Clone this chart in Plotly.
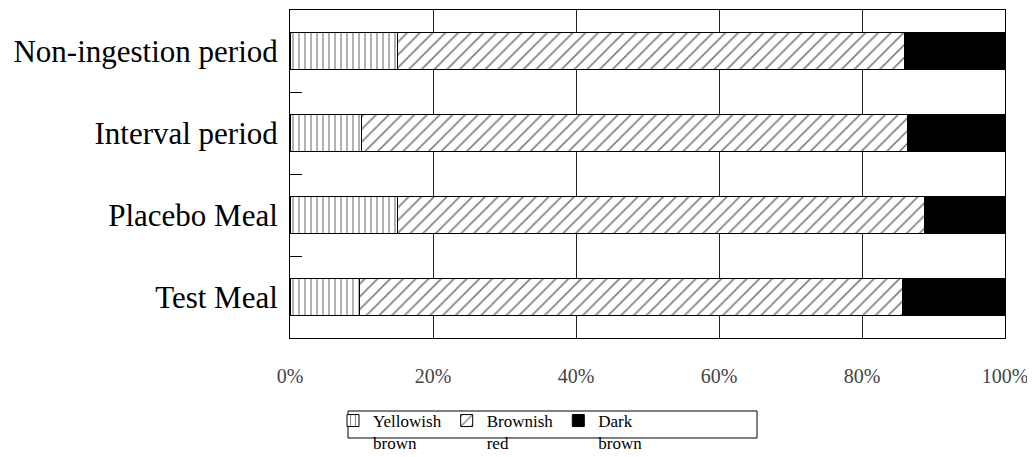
import plotly.graph_objects as go

categories = ["Non-ingestion period", "Interval period", "Placebo Meal", "Test Meal"]
yellowish_brown = [15.0, 10.0, 15.0, 9.7]
brownish_red = [71.0, 76.3, 73.7, 76.0]
dark_brown = [14.0, 13.7, 11.3, 14.3]
tick_vals = [0, 20, 40, 60, 80, 100]
tick_text = ["0%", "20%", "40%", "60%", "80%", "100%"]

# page is offset by the default 8px body margin
W, H = 1027, 449
L, R, T, B = 282, 30, 2, 119
PW, PH = W - L - R, H - T - B

def px_to_paper_x(px):
    return (px - L) / PW

def px_to_paper_y(py):
    return (H - B - py) / PH

fig = go.Figure()
fig.add_trace(go.Bar(
    y=categories, x=yellowish_brown, orientation="h", name="Yellowish<br>brown",
    marker=dict(color="white", line=dict(color="black", width=1),
                pattern=dict(shape="|", fgcolor="black", bgcolor="white", size=6, solidity=0.2)),
    width=0.45,
))
fig.add_trace(go.Bar(
    y=categories, x=brownish_red, orientation="h", name="Brownish<br>red",
    marker=dict(color="white", line=dict(color="black", width=1),
                pattern=dict(shape="/", fgcolor="black", bgcolor="white", size=9, solidity=0.18)),
    width=0.45,
))
fig.add_trace(go.Bar(
    y=categories, x=dark_brown, orientation="h", name="Dark<br>brown",
    marker=dict(color="black", line=dict(color="black", width=1)),
    width=0.45,
))

# legend frame (the wrapped second line spills below it, as in the original)
fig.add_shape(type="rect", xref="paper", yref="paper",
              x0=px_to_paper_x(340), x1=px_to_paper_x(749),
              y0=px_to_paper_y(430), y1=px_to_paper_y(403),
              line=dict(color="black", width=1), fillcolor="rgba(0,0,0,0)", layer="above")

fig.update_layout(
    barmode="stack",
    width=W, height=H,
    margin=dict(l=L, r=R, t=T, b=B, autoexpand=False),
    paper_bgcolor="white", plot_bgcolor="white",
    font=dict(family="Liberation Serif", color="black"),
    showlegend=True,
    legend=dict(
        orientation="h", x=px_to_paper_x(325), xanchor="left",
        y=px_to_paper_y(395), yanchor="top", valign="top",
        borderwidth=0, bgcolor="rgba(0,0,0,0)",
        font=dict(size=17, family="Liberation Serif", color="black"),
        itemwidth=30, tracegroupgap=0, traceorder="normal",
    ),
)
fig.update_xaxes(
    range=[0, 100], tickvals=tick_vals, ticktext=tick_text,
    showgrid=True, gridcolor="#222", gridwidth=1,
    showline=True, linecolor="black", linewidth=1, mirror=True,
    ticks="", ticklabelstandoff=20,
    tickfont=dict(family="Liberation Serif", size=20, color="#444"),
    zeroline=False,
)
fig.update_yaxes(
    categoryorder="array", categoryarray=categories, autorange="reversed",
    showline=True, linecolor="black", linewidth=1, mirror=True,
    ticks="inside", ticklen=12, tickcolor="black", tickson="boundaries",
    tickfont=dict(family="Liberation Serif", size=31, color="black"),
    ticklabelstandoff=5,
    showgrid=False,
)

fig.write_html("out.html")
